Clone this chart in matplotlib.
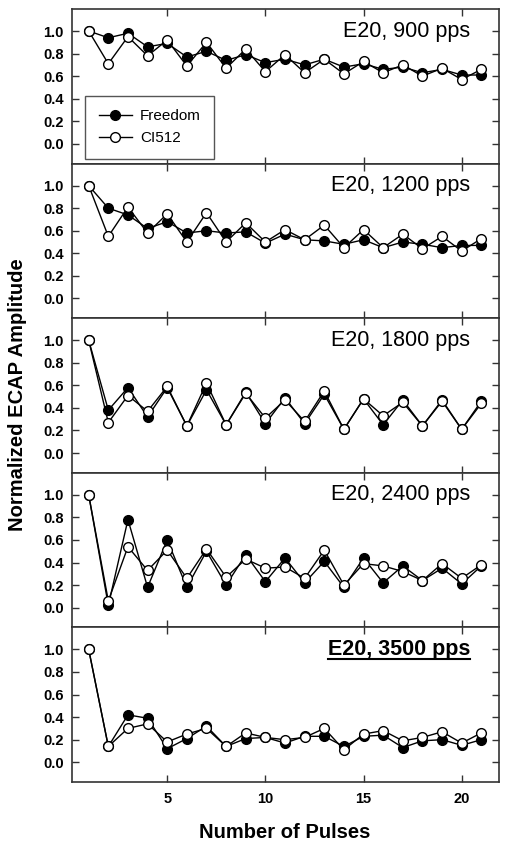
import numpy as np
import matplotlib
matplotlib.use("Agg")
import matplotlib.pyplot as plt
from matplotlib.lines import Line2D
from matplotlib.transforms import blended_transform_factory

plt.rcParams['font.family'] = ['Liberation Sans', 'DejaVu Sans']

pulses = list(range(1, 22))
titles = ["E20, 900 pps", "E20, 1200 pps", "E20, 1800 pps", "E20, 2400 pps", "E20, 3500 pps"]

freedom_900 = [1.0, 0.94, 0.98, 0.86, 0.89, 0.77, 0.82, 0.74, 0.79, 0.72, 0.75, 0.70, 0.75, 0.68, 0.71, 0.66, 0.68, 0.63, 0.66, 0.61, 0.61]
ci512_900 = [1.0, 0.71, 0.95, 0.78, 0.92, 0.69, 0.90, 0.67, 0.84, 0.64, 0.79, 0.63, 0.75, 0.62, 0.73, 0.63, 0.70, 0.60, 0.67, 0.57, 0.66]

freedom_1200 = [1.0, 0.80, 0.74, 0.62, 0.68, 0.58, 0.60, 0.58, 0.59, 0.49, 0.57, 0.52, 0.51, 0.48, 0.52, 0.45, 0.50, 0.48, 0.45, 0.47, 0.47]
ci512_1200 = [1.0, 0.55, 0.81, 0.58, 0.75, 0.50, 0.76, 0.50, 0.67, 0.50, 0.61, 0.52, 0.65, 0.45, 0.61, 0.45, 0.57, 0.44, 0.55, 0.42, 0.53]

freedom_1800 = [1.0, 0.38, 0.58, 0.32, 0.58, 0.24, 0.56, 0.25, 0.54, 0.26, 0.49, 0.26, 0.52, 0.21, 0.48, 0.25, 0.47, 0.24, 0.47, 0.21, 0.46]
ci512_1800 = [1.0, 0.27, 0.51, 0.37, 0.59, 0.24, 0.62, 0.25, 0.53, 0.31, 0.47, 0.28, 0.55, 0.21, 0.48, 0.33, 0.45, 0.24, 0.46, 0.21, 0.44]

freedom_2400 = [1.0, 0.02, 0.78, 0.18, 0.60, 0.18, 0.50, 0.20, 0.47, 0.23, 0.44, 0.22, 0.41, 0.18, 0.44, 0.22, 0.37, 0.24, 0.35, 0.21, 0.37]
ci512_2400 = [1.0, 0.06, 0.54, 0.33, 0.51, 0.26, 0.52, 0.27, 0.43, 0.35, 0.36, 0.26, 0.51, 0.20, 0.39, 0.37, 0.32, 0.24, 0.39, 0.26, 0.38]

freedom_3500 = [1.0, 0.14, 0.42, 0.39, 0.12, 0.21, 0.32, 0.14, 0.21, 0.22, 0.17, 0.23, 0.23, 0.14, 0.23, 0.24, 0.13, 0.19, 0.20, 0.15, 0.20]
ci512_3500 = [1.0, 0.14, 0.30, 0.34, 0.18, 0.25, 0.30, 0.14, 0.26, 0.22, 0.20, 0.22, 0.30, 0.11, 0.25, 0.28, 0.19, 0.22, 0.27, 0.17, 0.26]

freedom = [freedom_900, freedom_1200, freedom_1800, freedom_2400, freedom_3500]
ci512 = [ci512_900, ci512_1200, ci512_1800, ci512_2400, ci512_3500]

W, H = 509, 850
fig = plt.figure(figsize=(W / 100, H / 100), dpi=100)

left_px, right_px = 72, 499
top_px, bottom_px = 9, 782
ph = (bottom_px - top_px) / 5.0

spine_col = '#333333'
axes = []
for i in range(5):
    y_top = top_px + i * ph
    ax = fig.add_axes([left_px / W, 1 - (y_top + ph) / H, (right_px - left_px) / W, ph / H])
    axes.append(ax)
    ax.plot(pulses, freedom[i], '-', color='black', lw=1.0, marker='o', ms=7.0,
            mfc='black', mec='black', mew=1.0, label='Freedom', zorder=3)
    ax.plot(pulses, ci512[i], '-', color='black', lw=1.0, marker='o', ms=7.0,
            mfc='white', mec='black', mew=1.0, label='CI512', zorder=4)
    ax.set_xlim(0.15, 21.9)
    ax.set_ylim(-0.175, 1.195)
    ax.set_yticks([0.0, 0.2, 0.4, 0.6, 0.8, 1.0])
    ax.set_yticklabels(['0.0', '0.2', '0.4', '0.6', '0.8', '1.0'])
    ax.set_xticks([5, 10, 15, 20])
    ax.tick_params(direction='in', length=5, width=1.0, color=spine_col,
                   top=True, right=True, labelsize=10.5)
    ax.tick_params(axis='y', pad=6)
    for lab in ax.get_yticklabels() + ax.get_xticklabels():
        lab.set_fontweight('bold')
    if i < 4:
        ax.tick_params(labelbottom=False)
    for s in ax.spines.values():
        s.set_linewidth(1.2)
        s.set_color(spine_col)
    trans = blended_transform_factory(ax.transAxes, ax.transData)
    if i < 4:
        ax.text(0.932, 1.0, titles[i], transform=trans, ha='right', va='center', fontsize=15.5)
    else:
        t = ax.text(0.932, 1.0, titles[i], transform=trans, ha='right', va='center',
                    fontsize=15.5, fontweight='bold')

axes[0].legend(loc='lower left', bbox_to_anchor=(0.03, 0.032), borderaxespad=0,
               fancybox=False, edgecolor='#555555', fontsize=11, handlelength=2.2,
               handletextpad=0.5, borderpad=0.9, labelspacing=0.5, framealpha=1)
axes[0].get_legend().get_frame().set_linewidth(1.0)

axes[4].tick_params(axis='x', pad=7)
fig.text(18 / W, 1 - 395 / H, 'Normalized ECAP Amplitude', rotation=90, ha='center', va='center',
         fontsize=14.5, fontweight='bold')
fig.text(285 / W, 1 - 832 / H, 'Number of Pulses', ha='center', va='center',
         fontsize=14.5, fontweight='bold')

# underline for last title
fig.canvas.draw()
bb = t.get_window_extent()
uy = bb.y0 + 1.0
fig.add_artist(Line2D([bb.x0 / W, bb.x1 / W], [uy / H, uy / H], transform=fig.transFigure,
                      color='black', lw=1.5))

fig.savefig('out.png', dpi=100)
